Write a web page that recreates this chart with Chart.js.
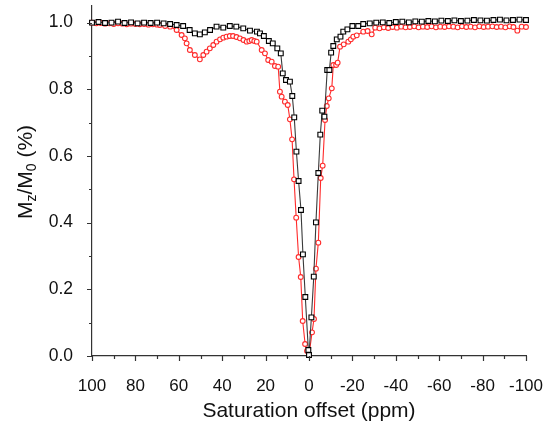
<!DOCTYPE html>
<html>
<head>
<meta charset="utf-8">
<script src="https://cdn.jsdelivr.net/npm/chart.js@4/dist/chart.umd.min.js"></script>
<style>
  html, body { margin: 0; padding: 0; background: #fff; }
  #chart { display: block; }
</style>
</head>
<body>
<canvas id="chart" width="547" height="423"></canvas>
<script>
// black squares series
const blackX = [100, 97, 94, 91, 88, 85, 82, 79, 76, 73, 70, 67, 64, 61, 58, 55, 52.6, 50.3, 48, 45.6, 42.6, 39.5, 36.5, 33.5, 30.3, 27.2, 24, 22.6, 20.8, 18.5, 16.7, 14.6, 13, 12.1, 10.6, 8.8, 7.7, 6.8, 5.8, 4.8, 3.7, 2.8, 1.7, 0.3, 0, -1.1, -2.2, -3.2, -4.3, -5.2, -6.1, -7.1, -8.4, -9.4, -10.2, -11.2, -12.8, -14.5, -15.8, -17.7, -20, -22.7, -25, -28, -31, -34, -37, -40, -43, -46, -49, -52, -55, -58, -61, -64, -67, -70, -73, -76, -79, -82, -85, -88, -91, -94, -97, -100];
const blackY = [1.0, 1.002, 0.999, 1.0, 1.003, 0.999, 1.001, 0.998, 1.0, 0.999, 1.0, 0.998, 0.996, 0.993, 0.99, 0.978, 0.968, 0.965, 0.971, 0.978, 0.988, 0.985, 0.99, 0.988, 0.983, 0.976, 0.973, 0.968, 0.96, 0.945, 0.938, 0.923, 0.908, 0.848, 0.828, 0.823, 0.78, 0.716, 0.613, 0.525, 0.438, 0.305, 0.177, 0.018, 0.003, 0.116, 0.238, 0.401, 0.549, 0.664, 0.736, 0.718, 0.858, 0.858, 0.91, 0.93, 0.95, 0.958, 0.973, 0.98, 0.99, 0.99, 0.996, 0.998, 1.0, 1.001, 0.999, 1.002, 1.003, 1.001, 1.004, 1.003, 1.005, 1.004, 1.006, 1.005, 1.007, 1.005, 1.006, 1.008, 1.007, 1.006, 1.008, 1.009, 1.007, 1.008, 1.009, 1.008];

// red circles series
const redX = [100, 98, 96, 94, 92, 90, 88, 86, 84, 82, 80, 78, 76, 74, 72, 70, 68.7, 66.3, 64, 61, 58.7, 57.2, 56.4, 54.9, 52.6, 50.3, 48.7, 47.2, 45.7, 44.1, 42.6, 41, 39.5, 38, 36.5, 35, 33.4, 31.8, 30.2, 28.7, 27.5, 26.4, 25.2, 24.1, 21.8, 20.3, 18.8, 17.2, 15.7, 14.2, 13.4, 12.6, 11.1, 9.8, 8.8, 7.8, 6.9, 5.9, 4.8, 3.8, 2.9, 1.8, 0.9, 0, -1.4, -2.3, -3.2, -4.3, -5.4, -6.3, -7.4, -8.2, -9.1, -10.5, -11.2, -12.5, -13.2, -14.3, -16, -18.1, -19.3, -20.4, -22, -25, -27, -28.9, -30.5, -32.5, -34.5, -36.5, -38.5, -40.5, -42.5, -44.5, -46.5, -48.5, -50.5, -52.5, -54.5, -56.5, -58.5, -60.5, -62.5, -64.5, -66.5, -68.5, -70.5, -72.5, -74.5, -76.5, -78.5, -80.5, -82.5, -84.5, -86.5, -88.5, -90.5, -92.5, -94.2, -96, -98, -100];
const redY = [1.0, 0.998, 0.999, 0.997, 0.998, 0.996, 0.998, 0.997, 0.995, 0.997, 0.996, 0.995, 0.996, 0.994, 0.995, 0.994, 0.993, 0.99, 0.988, 0.978, 0.963, 0.953, 0.938, 0.918, 0.903, 0.89, 0.903, 0.913, 0.923, 0.933, 0.943, 0.95, 0.955, 0.958, 0.96, 0.96, 0.957, 0.953, 0.948, 0.943, 0.945, 0.948, 0.945, 0.943, 0.918, 0.908, 0.888, 0.883, 0.87, 0.868, 0.793, 0.778, 0.763, 0.753, 0.71, 0.65, 0.53, 0.415, 0.297, 0.237, 0.105, 0.036, 0.015, 0.003, 0.071, 0.111, 0.262, 0.34, 0.534, 0.571, 0.708, 0.75, 0.773, 0.803, 0.873, 0.873, 0.88, 0.928, 0.935, 0.943, 0.95, 0.958, 0.962, 0.973, 0.975, 0.965, 0.985, 0.983, 0.986, 0.984, 0.987, 0.985, 0.988, 0.986, 0.987, 0.989, 0.986, 0.988, 0.987, 0.989, 0.986, 0.988, 0.987, 0.989, 0.988, 0.986, 0.989, 0.987, 0.988, 0.986, 0.989, 0.987, 0.988, 0.989, 0.987, 0.988, 0.986, 0.989, 0.987, 0.976, 0.988, 0.987, 0.988];

const xTickValues = [100, 80, 60, 40, 20, 0, -20, -40, -60, -80, -100];
const yTickValues = [0, 0.2, 0.4, 0.6, 0.8, 1.0];
const xTitle = 'Saturation offset (ppm)';
const FONT = "'Liberation Sans', Arial, sans-serif";

const toPoints = (xs, ys) => xs.map((x, i) => ({ x, y: ys[i] }));

// minor/major tick marks (outside) and rich y title with subscripts
const axisDecorPlugin = {
  id: 'axisDecor',
  afterDraw: chart => {
    const ctx = chart.ctx;
    const xs = chart.scales.x;
    const ys = chart.scales.y;
    const area = chart.chartArea;
    ctx.save();
    ctx.strokeStyle = '#333';
    ctx.lineWidth = 1.2;
    ctx.beginPath();
    for (let v = -100; v <= 100; v += 10) {
      const px = Math.round(xs.getPixelForValue(v)) + 0.5;
      const len = v % 20 === 0 ? 5 : 3;
      ctx.moveTo(px, area.bottom);
      ctx.lineTo(px, area.bottom + len);
    }
    for (let i = 0; i <= 10; i++) {
      const py = Math.round(ys.getPixelForValue(i / 10)) + 0.5;
      const len = i % 2 === 0 ? 5 : 3;
      ctx.moveTo(area.left, py);
      ctx.lineTo(area.left - len, py);
    }
    ctx.stroke();

    // x title
    ctx.fillStyle = '#111';
    ctx.font = `21px ${FONT}`;
    ctx.textAlign = 'center';
    ctx.textBaseline = 'alphabetic';
    ctx.fillText(xTitle, (area.left + area.right) / 2, 417);

    // y title: M_z/M_0 (%)
    const parts = [
      { t: 'M', sub: false },
      { t: 'z', sub: true },
      { t: '/M', sub: false },
      { t: '0', sub: true },
      { t: ' (%)', sub: false },
    ];
    const big = `21px ${FONT}`;
    const small = `14px ${FONT}`;
    let total = 0;
    for (const p of parts) {
      ctx.font = p.sub ? small : big;
      total += ctx.measureText(p.t).width;
    }
    ctx.translate(32, 172 + total / 2);
    ctx.rotate(-Math.PI / 2);
    ctx.textAlign = 'left';
    let off = 0;
    for (const p of parts) {
      ctx.font = p.sub ? small : big;
      ctx.fillText(p.t, off, p.sub ? 4 : 0);
      off += ctx.measureText(p.t).width;
    }
    ctx.restore();
  },
};

new Chart(document.getElementById('chart'), {
  type: 'line',
  data: {
    datasets: [
      {
        label: 'black',
        data: toPoints(blackX, blackY),
        borderColor: '#3a3a3a',
        borderWidth: 1.1,
        pointStyle: 'rect',
        pointRadius: 3.4,
        pointBorderColor: '#000',
        pointBackgroundColor: '#fff',
        pointBorderWidth: 1.1,
        tension: 0,
      },
      {
        label: 'red',
        data: toPoints(redX, redY),
        borderColor: '#ff2a2a',
        borderWidth: 1.1,
        pointStyle: 'circle',
        pointRadius: 2.4,
        pointBorderColor: '#ff2a2a',
        pointBackgroundColor: '#fff',
        pointBorderWidth: 1.1,
        tension: 0,
      },
    ],
  },
  options: {
    responsive: false,
    animation: false,
    clip: false,
    layout: { padding: { top: 6, right: 21, left: 0, bottom: 0 } },
    scales: {
      x: {
        type: 'linear',
        reverse: true,
        min: -100,
        max: 100,
        grid: { display: false },
        border: { display: true, color: '#333', width: 1.2 },
        afterBuildTicks: s => { s.ticks = xTickValues.map(value => ({ value })); },
        ticks: {
          padding: 12,
          maxRotation: 0,
          autoSkip: false,
          color: '#111',
          font: { family: FONT, size: 17 },
          callback: v => String(v),
        },
        afterFit: s => {
          s.height = 67;
          s.paddingLeft = 0;
          s.paddingRight = 0;
        },
      },
      y: {
        min: 0,
        max: 1.05,
        grid: { display: false },
        border: { display: true, color: '#333', width: 1.2 },
        afterBuildTicks: s => { s.ticks = yTickValues.map(value => ({ value })); },
        ticks: {
          padding: 11,
          color: '#111',
          font: { family: FONT, size: 17.5 },
          callback: v => v.toFixed(1),
        },
        afterFit: s => {
          s.width = 92;
          s.paddingTop = 0;
          s.paddingBottom = 0;
        },
      },
    },
    plugins: {
      legend: { display: false },
      tooltip: { enabled: false },
    },
  },
  plugins: [axisDecorPlugin],
});
</script>
</body>
</html>
